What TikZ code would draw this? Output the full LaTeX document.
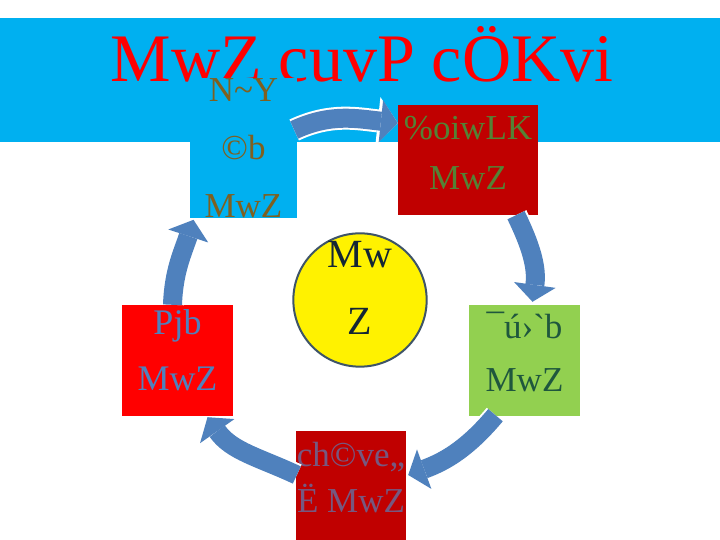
\documentclass[tikz,border=0pt]{standalone}
\usepackage{fontspec}
\newfontfamily\bnfont{Liberation Serif}
\usetikzlibrary{arrows.meta,shapes.geometric}
\definecolor{bannerblue}{HTML}{00B0F0}
\definecolor{titlered}{HTML}{FF0000}
\definecolor{darkred}{HTML}{C00000}
\definecolor{leafgreen}{HTML}{92D050}
\definecolor{browntext}{RGB}{127,96,32}
\definecolor{olivetext}{RGB}{84,130,53}
\definecolor{pinetext}{RGB}{31,87,61}
\definecolor{plumtext}{RGB}{118,88,128}
\definecolor{skytext}{RGB}{79,129,189}
\definecolor{hubedge}{RGB}{62,84,104}
\definecolor{hubtext}{RGB}{20,38,52}
\definecolor{arrowblue}{RGB}{79,129,189}
\tikzstyle{stage} = [rectangle, text centered, align=center, minimum width=111pt, minimum height=111pt, inner sep=0pt, font=\bnfont\fontsize{35}{53}\selectfont]
\tikzstyle{hub} = [circle, draw=hubedge, line width=2pt, fill=yellow, text=hubtext, align=center, minimum size=132pt, inner sep=0pt, font=\bnfont\fontsize{40}{67}\selectfont]
\tikzstyle{connector} = [line width=19pt, draw=arrowblue, -{Triangle[width=42pt,length=17pt,line width=0pt]}, preaction={draw=white, line width=23pt, -{Triangle[width=48pt,length=20pt,line width=0pt]}}]

\begin{document}
\begin{tikzpicture}[x=1pt,y=1pt]
            \useasboundingbox (0,0) rectangle (720,540);
            \fill [white] (0,0) rectangle (720,540);
            \fill [bannerblue] (0,522) rectangle (720,398);
            \node (title) [anchor=base, text=titlered, font=\bnfont\fontsize{68}{68}\selectfont] at (362,458) {MwZ cuvP cÖKvi};
            \node (lefttop) [stage, fill=bannerblue, text=browntext, minimum width=107pt, minimum height=114pt, font=\bnfont\fontsize{35}{58}\selectfont] at (243.5,392) {
                N\textasciitilde Y\\
                ©b\\
                MwZ
            };
            \node (topright) [stage, fill=darkred, text=olivetext, minimum width=140pt, minimum height=110pt, text depth=14pt, font=\bnfont\fontsize{35}{50}\selectfont] at (468,380) {
                \%oiwLK\\
                MwZ
            };
            \node (rightbox) [stage, fill=leafgreen, text=pinetext, text depth=18pt] at (524.5,179.5) {
                ¯ú›`b\\
                MwZ
            };
            \node (bottombox) [stage, fill=darkred, text=plumtext, minimum width=110pt, minimum height=110pt, text depth=18pt, font=\bnfont\fontsize{35}{46}\selectfont] at (351,54) {
                ch©ve„\\
                Ë MwZ
            };
            \node (leftbox) [stage, fill=red, text=skytext, text depth=20pt, font=\bnfont\fontsize{36}{56}\selectfont] at (177.5,179.5) {
                Pjb\\
                MwZ
            };
            \node (hub) [hub, text depth=24pt] at (360,240) {Mw\\Z};
            \draw [connector] ([xshift=-3pt,yshift=18pt]lefttop.east) to[out=25,in=174] ([yshift=37pt]topright.west);
            \draw [connector] ([xshift=48pt]topright.south) to[out=-64,in=82] ([xshift=8pt,yshift=3pt]rightbox.north);
            \draw [connector] ([xshift=-29pt,yshift=1pt]rightbox.south) to[out=-130,in=20] ([xshift=2pt,yshift=11pt]bottombox.east);
            \draw [connector] ([xshift=1pt,yshift=11pt]bottombox.west) to[out=155,in=-55] ([xshift=30pt,yshift=-1pt]leftbox.south);
            \draw [connector] ([xshift=-5pt]leftbox.north) to[out=88,in=-108] ([xshift=-50pt,yshift=-2pt]lefttop.south);
        \end{tikzpicture}
\end{document}
